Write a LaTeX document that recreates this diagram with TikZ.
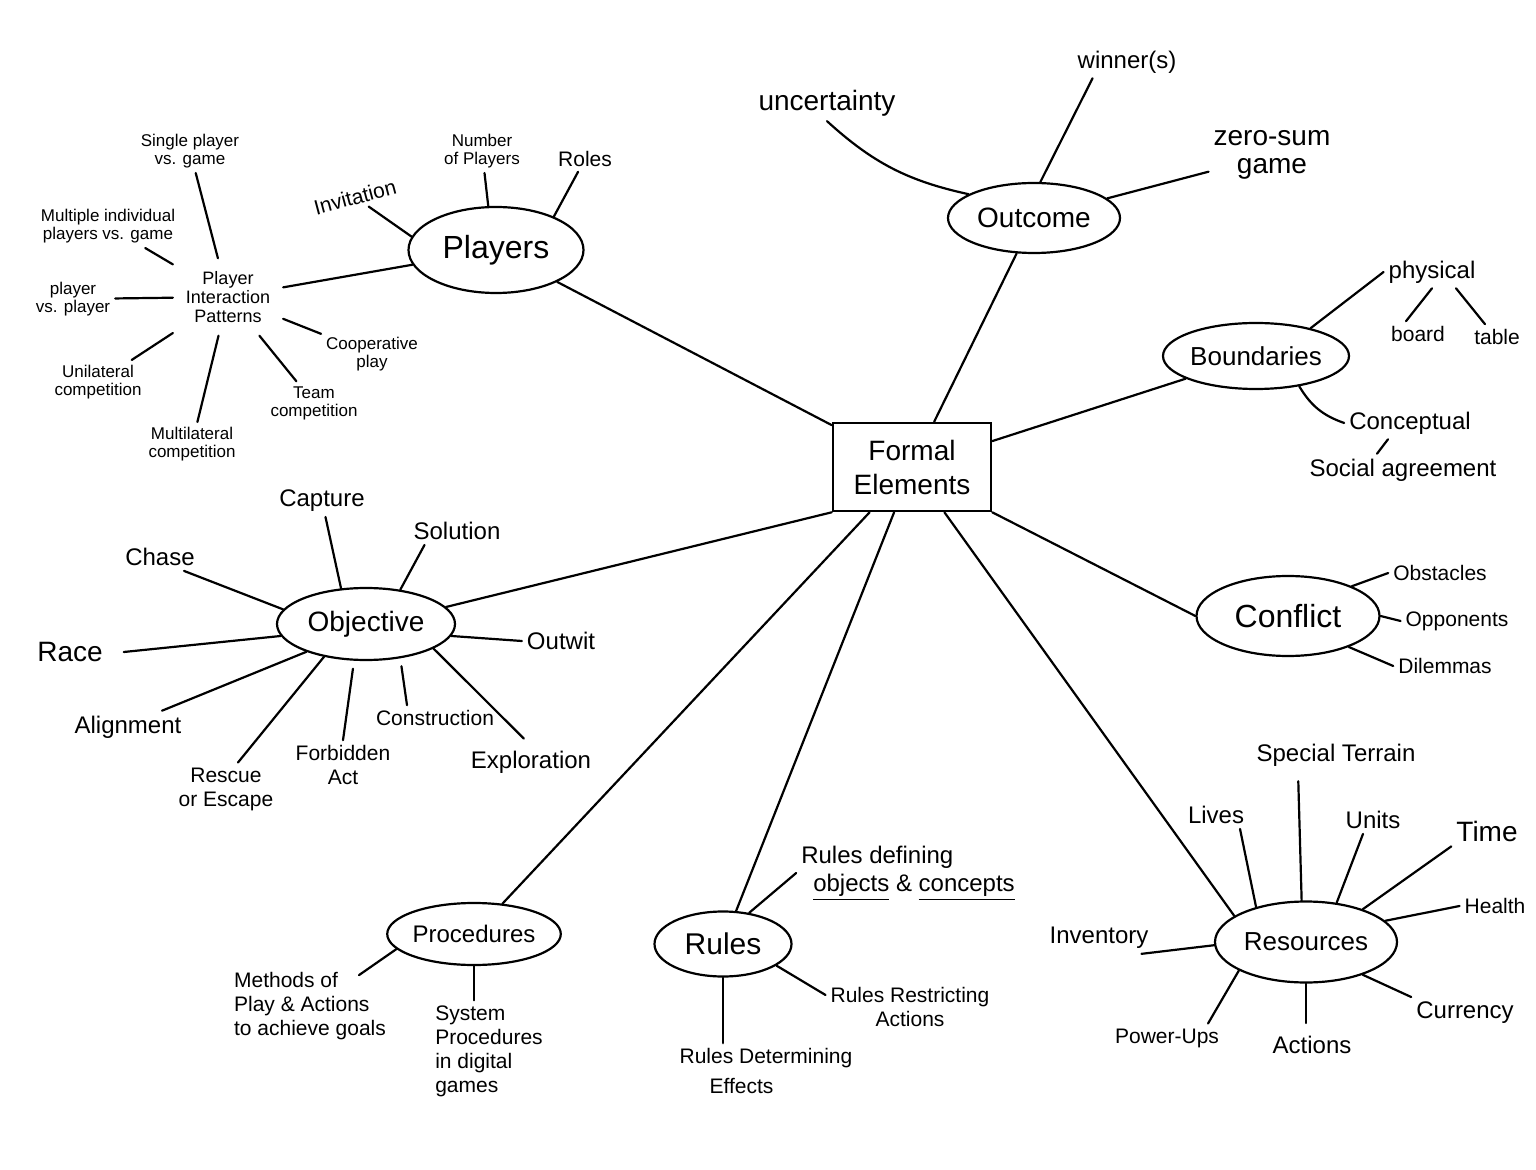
\documentclass[tikz,border=0pt]{standalone}
\usepackage{fontspec}
\setmainfont{Liberation Sans}
\usepackage{tikz}
\usetikzlibrary{shapes.geometric}

\begin{document}
\begin{tikzpicture}[
  x=0.5pt, y=-0.5pt,
  line width=1.1pt, line cap=round,
  topic/.style={draw, ellipse, inner sep=0pt},
  tiny/.style={font=\fontsize{8.5}{9}\selectfont, align=center, inner sep=2pt},
  leaf/.style={font=\fontsize{10.5}{12}\selectfont, align=center, inner sep=2pt},
  large/.style={font=\fontsize{12}{14}\selectfont, align=center, inner sep=2pt},
  xlarge/.style={font=\fontsize{14}{14}\selectfont, align=center, inner sep=2pt}
]
\fill[white] (0,0) rectangle (1536,1170);

\node[draw, line width=1.3pt, minimum width=79pt, minimum height=44pt,
      font=\fontsize{14}{17}\selectfont, align=center] (fe) at (912,467) {Formal\\Elements};

\node[topic, minimum width=87.5pt, minimum height=43pt, font=\fontsize{16}{18}\selectfont] (pl) at (496,250) {Players};
\node[topic, minimum width=86pt, minimum height=35pt, font=\fontsize{14}{16}\selectfont] (oc) at (1034,218) {Outcome};
\node[topic, minimum width=92.5pt, minimum height=33pt, font=\fontsize{13}{15}\selectfont] (bd) at (1256,356) {Boundaries};
\node[topic, minimum width=91.5pt, minimum height=40pt, font=\fontsize{16}{18}\selectfont] (cf) at (1288,616) {Conflict};
\node[topic, minimum width=89pt, minimum height=36pt, font=\fontsize{14}{16}\selectfont] (ob) at (366,624) {Objective};
\node[topic, minimum width=86.5pt, minimum height=31pt, font=\fontsize{12}{14}\selectfont] (pr) at (474,934) {Procedures};
\node[topic, minimum width=68.5pt, minimum height=32.5pt, font=\fontsize{15}{17}\selectfont] (ru) at (723,944) {Rules};
\node[topic, minimum width=91pt, minimum height=40.5pt, font=\fontsize{13}{15}\selectfont] (rs) at (1306,942) {Resources};

\draw (pl) -- (fe);
\draw (oc) -- (fe);
\draw (bd) -- (fe);
\draw (cf.west) -- (fe.south east);
\draw (ob.12) -- (fe.south west);
\draw (pr) -- (fe);
\draw (ru) -- (fe);
\draw (rs.160) -- (fe);

% players
\node[leaf, rotate=15] (inv) at (355,197) {Invitation};
\node[tiny] (nop) at (482,151) {Number\\of Players};
\node[leaf] (rol) at (585,159) {Roles};
\node[tiny, font=\fontsize{9}{9.5}\selectfont, inner sep=6pt] (pip) at (228,297) {Player\\Interaction\\Patterns};
\draw (pl.171) -- (inv);
\draw (pl.100) -- (nop);
\draw (pl.30) -- (rol);
\draw (pl.190) -- (pip);

\node[tiny] (spg) at (190,151) {Single player\\vs. game};
\node[tiny] (mip) at (108,226) {Multiple individual\\players vs. game};
\node[tiny] (pvp) at (73,299) {player\\vs. player};
\node[tiny] (ucp) at (98,382) {Unilateral\\competition};
\node[tiny] (mcp) at (192,444) {Multilateral\\competition};
\node[tiny] (tcp) at (314,403) {Team\\competition};
\node[tiny] (coo) at (372,354) {Cooperative\\play};
\draw (pip) -- (spg);
\draw (pip) -- (mip);
\draw (pip) -- (pvp);
\draw (pip) -- (ucp);
\draw (pip) -- (mcp);
\draw (pip) -- (tcp);
\draw (pip) -- (coo);

% outcome
\node[xlarge] (unc) at (827,103) {uncertainty};
\node[large] (win) at (1127,62) {winner(s)};
\node[xlarge] (zsg) at (1272,155) {zero-sum\\game};
\draw (oc.160) to[bend left=15] (unc.south);
\draw (oc.80) -- ([xshift=10pt]win.south west);
\draw (oc.15) -- (zsg);

% boundaries
\node[large] (phy) at (1432,272) {physical};
\node[leaf] (brd) at (1418,334) {board};
\node[leaf] (tbl) at (1497,337) {table};
\node[large] (cpt) at (1410,423) {Conceptual};
\node[large] (soc) at (1403,470) {Social agreement};
\draw (bd.27) -- (phy.west);
\draw (phy.south) -- ([xshift=-6pt]brd.north);
\draw ([xshift=12pt]phy.south) -- ([xshift=-6pt]tbl.north);
\draw (bd.-35) to[bend right=20] (cpt.west);
\draw ([xshift=-11pt]cpt.south) -- ([xshift=-13pt]soc.north);

% conflict
\node[leaf] (obs) at (1440,573) {Obstacles};
\node[leaf] (opp) at (1457,621) {Opponents};
\node[leaf] (dil) at (1445,666) {Dilemmas};
\draw (cf.25) -- (obs.west);
\draw (cf.east) -- (opp.west);
\draw (cf.-27) -- (dil.west);

% objective
\node[large] (cap) at (322,501) {Capture};
\node[large] (sol) at (457,531) {Solution};
\node[large] (cha) at (160,557) {Chase};
\node[xlarge] (rac) at (70,652) {Race};
\node[large] (out) at (561,641) {Outwit};
\node[large] (ali) at (128,727) {Alignment};
\node[leaf] (res) at (226,789) {Rescue\\or Escape};
\node[leaf] (fba) at (343,765) {Forbidden\\Act};
\node[leaf] (cns) at (435,718) {Construction};
\node[large] (exp) at (531,762) {Exploration};
\draw (ob.125) -- (cap);
\draw (ob.45) -- ([xshift=8pt]sol.south west);
\draw (ob.170) -- ([xshift=12pt]cha.south);
\draw (ob.188) -- ([xshift=8pt]rac.east);
\draw (ob.-8) -- (out.west);
\draw (ob.205) -- ([xshift=17pt]ali.north);
\draw (ob.218) -- ([xshift=6pt]res.north);
\draw[shorten <=4pt] (ob.252) -- (fba.north);
\draw[shorten <=4pt] (ob.-45) -- ([xshift=-14pt]cns.north);
\draw[shorten >=5pt] (ob.-20) -- (exp.north);

% procedures
\node[leaf, align=left] (mop) at (310,1006) {Methods of\\Play \& Actions\\to achieve goals};
\node[leaf, align=left] (sys) at (489,1051) {System\\Procedures\\in digital\\games};
\draw (pr.191) -- ([xshift=-16pt,yshift=-4pt]mop.north east);
\draw (pr.south) -- (pr.south |- sys.north);

% rules
\node[large, align=left] (rdf) at (908,873) {Rules defining\\\hspace*{6pt}\underline{objects} \& \underline{concepts}};
\node[leaf] (rra) at (910,1007) {Rules Restricting\\Actions};
\node[leaf, align=left] (rde) at (766,1071) {Rules Determining\\[3pt]\hspace*{15pt}Effects};
\draw (ru.50) -- (rdf.west);
\draw (ru.-22) -- ([yshift=6pt]rra.west);
\draw (ru.south) -- (ru.south |- rde.north);

% resources
\node[large] (spt) at (1336,755) {Special Terrain};
\node[large] (liv) at (1216,815) {Lives};
\node[large] (unt) at (1373,820) {Units};
\node[xlarge] (tim) at (1487,831) {Time};
\node[leaf] (hea) at (1495,906) {Health};
\node[large] (ivt) at (1099,938) {Inventory};
\node[leaf] (pwu) at (1167,1038) {Power-Ups};
\node[large] (act) at (1312,1045) {Actions};
\node[large] (cur) at (1465,1013) {Currency};
\draw[shorten >=5pt] (rs.96) -- ([xshift=-19pt]spt.south);
\draw (rs.145) -- ([xshift=12pt]liv.south);
\draw (rs.52) -- ([xshift=-5pt]unt.south);
\draw (rs.30) -- (tim.south west);
\draw (rs.15) -- (hea.west);
\draw (rs.182) -- ([xshift=-6pt]ivt.south east);
\draw (rs.203) -- ([xshift=-8pt]pwu.north east);
\draw[shorten >=4pt] (rs.south) -- (rs.south |- act.north);
\draw (rs.-30) -- (cur.north west);
\end{tikzpicture}
\end{document}
